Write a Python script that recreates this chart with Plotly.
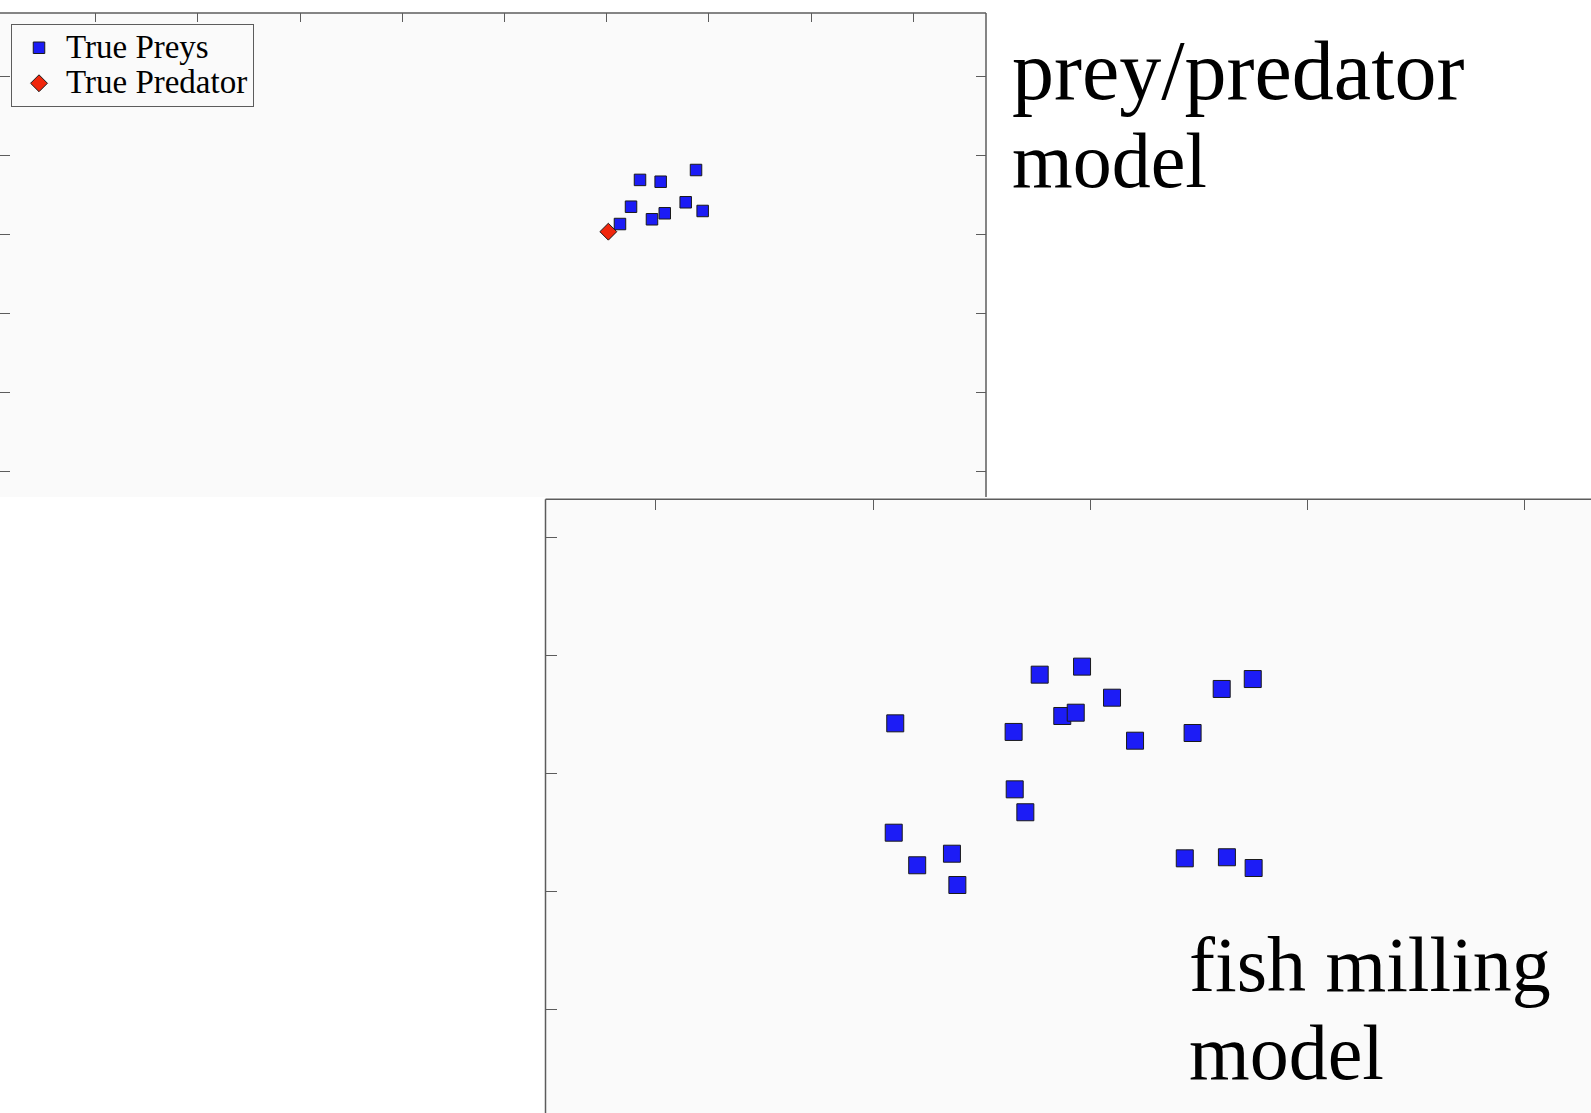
import plotly.graph_objects as go

W, H = 1591, 1113

# ---- data (arbitrary axis units; tick marks at integer values) ----
prey_top_x = [5.326, 5.528, 5.874, 5.238, 5.773, 5.568, 5.443, 5.130, 5.939]
prey_top_y = [3.690, 3.667, 3.815, 3.351, 3.407, 3.268, 3.192, 3.132, 3.297]
pred_top_x = [5.016]
pred_top_y = [3.035]

fish_x = [1.102, 1.767, 1.962, 2.100, 2.605, 2.748, 1.871, 1.933, 1.647, 2.206,
          2.471, 1.652, 1.701, 1.095, 1.203, 1.363, 1.388, 2.435, 2.629, 2.752]
fish_y = [2.424, 2.836, 2.904, 2.641, 2.715, 2.799, 2.486, 2.514, 2.351, 2.277,
          2.342, 1.865, 1.671, 1.498, 1.222, 1.320, 1.055, 1.281, 1.290, 1.199]

top_xticks = [0, 1, 2, 3, 4, 5, 6, 7, 8]
top_yticks = [0, 1, 2, 3, 4, 5]
bot_xticks = [0, 1, 2, 3, 4]
bot_yticks = [0, 1, 2, 3, 4]

legend_names = ["True Preys", "True Predator"]
label_top = ["prey/predator", "model"]
label_bot = ["fish milling", "model"]

BLUE = "#1c1cf6"
RED = "#f0260c"
EDGE = "#1a1a1a"
AXC = "#5c5c5c"
BG = "#fafafa"
FONT = "Liberation Serif"

def leg(name):
    return '<span style="font-size:33px">' + name + '</span>'

fig = go.Figure()
fig.add_trace(go.Scatter(x=prey_top_x, y=prey_top_y, mode="markers", name=leg(legend_names[0]),
                         marker=dict(symbol="square", size=11.5, color=BLUE,
                                     line=dict(color=EDGE, width=1)),
                         xaxis="x", yaxis="y"))
fig.add_trace(go.Scatter(x=pred_top_x, y=pred_top_y, mode="markers", name=leg(legend_names[1]),
                         marker=dict(symbol="diamond", size=13, color=RED,
                                     line=dict(color=EDGE, width=1)),
                         xaxis="x", yaxis="y"))
fig.add_trace(go.Scatter(x=fish_x, y=fish_y, mode="markers", showlegend=False,
                         marker=dict(symbol="square", size=17, color=BLUE,
                                     line=dict(color=EDGE, width=1)),
                         xaxis="x2", yaxis="y2"))

def px_x(p):
    return p / W

def px_y(p):
    return 1 - p / H

# panel pixel boxes
T_L, T_R, T_T, T_B = 0, 986, 13, 497
B_L, B_R, B_T, B_B = 545.5, 1591, 499.3, 1113

ax_common = dict(showgrid=False, zeroline=False, showticklabels=False, ticks="inside",
                 tickcolor=AXC, tickwidth=1, showline=False)

fig.update_layout(
    width=W, height=H,
    margin=dict(l=0, r=0, t=0, b=0),
    paper_bgcolor="white",
    plot_bgcolor=BG,
    xaxis=dict(domain=[px_x(T_L), px_x(T_R)], range=[-0.9364, 8.7114], anchor="y",
               side="top", tickvals=top_xticks, ticklen=9, **ax_common),
    yaxis=dict(domain=[px_y(T_B), px_y(T_T)], range=[-0.3199, 5.8005], anchor="x",
               tickvals=top_yticks, ticklen=10, mirror="ticks", **ax_common),
    xaxis2=dict(domain=[px_x(B_L), px_x(B_R)], range=[-0.5083, 4.3053], anchor="y2",
                side="top", tickvals=bot_xticks, ticklen=11, **ax_common),
    yaxis2=dict(domain=[px_y(B_B), px_y(B_T)], range=[-0.8755, 4.3209], anchor="x2",
                tickvals=bot_yticks, ticklen=11, **ax_common),
    showlegend=True,
    legend=dict(x=11 / W, y=1 - 24 / H, xanchor="left", yanchor="top",
                bgcolor=BG, bordercolor=AXC, borderwidth=1,
                font=dict(family=FONT, size=25, color="black"),
                itemwidth=44, tracegroupgap=0),
)

# panel borders (top & right of upper panel, top & left of lower panel)
line = dict(color=AXC, width=1.5)
fig.add_shape(type="line", xref="paper", yref="paper",
              x0=px_x(T_L), x1=px_x(T_R), y0=px_y(T_T), y1=px_y(T_T), line=line)
fig.add_shape(type="line", xref="paper", yref="paper",
              x0=px_x(T_R), x1=px_x(T_R), y0=px_y(T_B), y1=px_y(T_T), line=line)
fig.add_shape(type="line", xref="paper", yref="paper",
              x0=px_x(B_L), x1=px_x(B_R), y0=px_y(B_T), y1=px_y(B_T), line=line)
fig.add_shape(type="line", xref="paper", yref="paper",
              x0=px_x(B_L), x1=px_x(B_L), y0=px_y(B_B), y1=px_y(B_T), line=line)

def add_label(text, x_px, baseline_px, fs):
    center = baseline_px - 0.3375 * fs
    fig.add_annotation(text=text, xref="paper", yref="paper", x=px_x(x_px), y=px_y(center),
                       xanchor="left", yanchor="middle", showarrow=False,
                       font=dict(family=FONT, size=fs, color="black"))

add_label(label_top[0], 1010, 99, 84)
add_label(label_top[1], 1010, 187, 78)
add_label(label_bot[0], 1187, 991, 78)
add_label(label_bot[1], 1187, 1079, 78)

fig.write_html("out.html")
